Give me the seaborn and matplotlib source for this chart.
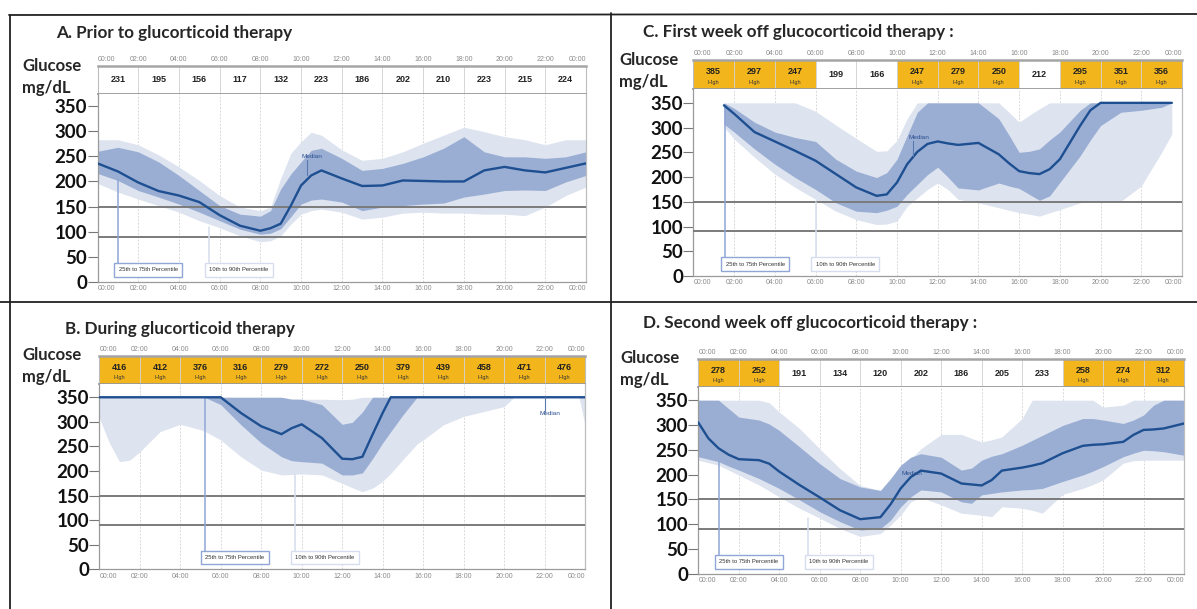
import matplotlib
matplotlib.use("Agg")
import matplotlib.pyplot as plt
import seaborn as sns
from matplotlib.lines import Line2D

sns.set_theme(style="white")
plt.rcParams["font.family"] = ["Liberation Sans", "DejaVu Sans"]

FIG_W, FIG_H = 1197, 609

LIGHT_BAND = "#dde3ef"
DARK_BAND = "#9aaed4"
MEDIAN_BLUE = "#1d4f91"
GOLD = "#f2b51b"
BOLD_FONT = ["Lato", "DejaVu Sans"]

TIME_TICKS = list(range(0, 25, 2))
TIME_LABELS = ["00:00", "02:00", "04:00", "06:00", "08:00", "10:00", "12:00",
               "14:00", "16:00", "18:00", "20:00", "22:00", "00:00"]
CELL_CENTERS = [1, 3, 5, 7, 9, 11, 13, 15, 17, 19, 21, 23]
Y_TICKS = [0, 50, 100, 150, 200, 250, 300, 350]

# ---- A. prior to therapy ----
A_HOURS = [0, 1, 2, 3, 4, 5, 6, 7, 8, 8.5, 9, 9.5, 10, 10.5, 11, 12, 13, 14,
           15, 16, 17, 18, 19, 20, 21, 22, 23, 24]
A_MEDIAN = [236, 220, 198, 181, 172, 159, 133, 112, 102, 107, 116, 152, 192, 212,
            222, 206, 191, 192, 202, 201, 200, 200, 222, 229, 222, 218, 227, 236]
A_P25 = [216, 202, 182, 169, 155, 139, 122, 105, 95, 97, 106, 130, 155, 163,
         165, 159, 142, 149, 152, 155, 157, 169, 175, 182, 183, 182, 199, 212]
A_P75 = [260, 268, 259, 239, 212, 182, 152, 135, 131, 142, 185, 215, 239, 262,
         266, 246, 222, 226, 236, 249, 266, 289, 259, 249, 249, 246, 249, 259]
A_P10 = [196, 179, 165, 152, 139, 122, 108, 92, 80, 82, 92, 115, 135, 142,
         145, 139, 125, 129, 137, 139, 137, 137, 135, 135, 132, 149, 172, 189]
A_P90 = [283, 283, 273, 253, 229, 202, 172, 149, 142, 149, 206, 256, 279, 298,
         292, 263, 242, 246, 259, 276, 292, 308, 299, 289, 283, 273, 283, 283]
A_DAILY = [231, 195, 156, 117, 132, 223, 186, 202, 210, 223, 215, 224]
A_HIGH = [0, 0, 0, 0, 0, 0, 0, 0, 0, 0, 0, 0]

# ---- B. during therapy ----
B_HOURS = [0, 0.5, 1, 1.5, 2, 3, 4, 5, 5.2, 6, 7, 8, 9, 9.5, 10, 11, 12, 12.5,
           13, 13.5, 14, 14.4, 15, 15.7, 16, 17, 18, 19, 20, 20.5, 21, 22, 23,
           23.7, 24]
B_MEDIAN = [350, 350, 350, 350, 350, 350, 350, 350, 350, 350, 318, 291, 275, 287,
            295, 267, 225, 224, 229, 274, 318, 350, 350, 350, 350, 350, 350, 350,
            350, 350, 350, 350, 350, 350, 350]
B_P25 = [350, 350, 350, 350, 350, 350, 350, 350, 350, 335, 294, 257, 229, 221,
         219, 216, 192, 192, 196, 225, 257, 280, 314, 350, 350, 350, 350, 350,
         350, 350, 350, 350, 350, 350, 350]
B_P75 = [350, 350, 350, 350, 350, 350, 350, 350, 350, 350, 350, 350, 350, 346,
         346, 335, 295, 299, 320, 350, 350, 350, 350, 350, 350, 350, 350, 350,
         350, 350, 350, 350, 350, 350, 350]
B_P10 = [308, 257, 219, 222, 239, 280, 295, 284, 281, 263, 229, 202, 192, 193,
         194, 192, 175, 166, 158, 165, 179, 195, 223, 255, 263, 294, 311, 321,
         331, 350, 350, 350, 350, 350, 294]
B_P90 = [350, 350, 350, 350, 350, 350, 350, 350, 350, 350, 350, 350, 350, 347,
         346, 346, 345, 346, 350, 350, 350, 350, 350, 350, 350, 350, 350, 350,
         350, 350, 350, 350, 350, 350, 350]
B_DAILY = [416, 412, 376, 316, 279, 272, 250, 379, 439, 458, 471, 476]
B_HIGH = [1, 1, 1, 1, 1, 1, 1, 1, 1, 1, 1, 1]

# ---- C. first week off therapy ----
C_HOURS = [1.5, 2, 3, 4, 5, 6, 7, 8, 9, 9.5, 10, 10.5, 11, 11.5, 12, 12.5, 13,
           14, 15, 15.5, 16, 16.5, 17, 17.5, 18, 19, 19.5, 20, 21, 22, 23, 23.5]
C_MEDIAN = [345, 328, 291, 272, 253, 233, 206, 179, 162, 165, 189, 226, 251, 267,
            272, 268, 265, 269, 246, 228, 212, 208, 206, 216, 236, 304, 335, 350,
            350, 350, 350, 350]
C_P25 = [307, 291, 257, 226, 199, 175, 148, 131, 128, 133, 141, 165, 185, 205,
         220, 200, 178, 174, 188, 182, 177, 165, 153, 162, 189, 243, 275, 304,
         331, 335, 341, 350]
C_P75 = [350, 339, 311, 291, 280, 272, 236, 212, 199, 209, 236, 284, 331, 350,
         350, 350, 350, 350, 318, 285, 250, 252, 257, 275, 291, 335, 350, 350,
         350, 350, 350, 350]
C_P10 = [301, 277, 240, 206, 179, 155, 131, 114, 104, 105, 111, 141, 158, 175,
         188, 175, 155, 148, 138, 133, 128, 125, 121, 128, 134, 148, 150, 151,
         151, 182, 250, 287]
C_P90 = [350, 350, 350, 350, 350, 333, 305, 278, 252, 253, 274, 318, 350, 350,
         350, 350, 350, 350, 350, 331, 311, 325, 338, 350, 350, 350, 350, 350,
         350, 350, 350, 350]
C_DAILY = [385, 297, 247, 199, 166, 247, 279, 250, 212, 295, 351, 356]
C_HIGH = [1, 1, 1, 0, 0, 1, 1, 1, 0, 1, 1, 1]

# ---- D. second week off therapy ----
D_HOURS = [0, 0.5, 1, 1.5, 2, 3, 3.5, 4, 5, 6, 7, 8, 9, 9.5, 10, 10.5, 11, 12,
           13, 13.5, 14, 14.5, 15, 16, 16.5, 17, 18, 19, 19.5, 20, 21, 21.5, 22,
           22.5, 23, 24]
D_MEDIAN = [305, 273, 253, 240, 231, 229, 222, 206, 179, 154, 128, 110, 114, 140,
            172, 195, 208, 202, 182, 180, 178, 189, 208, 214, 218, 223, 243, 258,
            260, 261, 266, 280, 290, 291, 293, 303]
D_P25 = [236, 231, 226, 217, 209, 192, 182, 172, 149, 125, 105, 88, 91, 108,
         135, 155, 169, 165, 145, 142, 159, 162, 165, 169, 170, 172, 186, 199,
         207, 216, 236, 243, 249, 248, 246, 239]
D_P75 = [350, 350, 350, 333, 316, 310, 302, 289, 256, 222, 192, 175, 168, 192,
         219, 235, 242, 235, 209, 213, 229, 237, 242, 259, 269, 279, 299, 313,
         313, 310, 303, 310, 320, 340, 350, 350]
D_P10 = [229, 224, 219, 209, 199, 179, 167, 155, 132, 112, 91, 75, 81, 98,
         118, 145, 154, 139, 122, 120, 118, 115, 135, 132, 128, 122, 160, 172,
         180, 189, 223, 228, 229, 229, 229, 229]
D_P90 = [350, 350, 350, 350, 350, 350, 345, 326, 293, 252, 212, 178, 168, 175,
         212, 232, 252, 281, 281, 273, 266, 270, 276, 313, 350, 350, 350, 350,
         350, 336, 340, 350, 350, 350, 350, 350]
D_DAILY = [278, 252, 191, 134, 120, 202, 186, 205, 233, 258, 274, 312]
D_HIGH = [1, 1, 0, 0, 0, 0, 0, 0, 0, 1, 1, 1]


def px_rect(x0, y0, x1, y1):
    """Pixel box (top-left origin) -> figure fraction rect."""
    return [x0 / FIG_W, 1 - y1 / FIG_H, (x1 - x0) / FIG_W, (y1 - y0) / FIG_H]


def time_axis(ax, top=False):
    ax.set_xticks(TIME_TICKS)
    ax.set_xticklabels(TIME_LABELS, fontsize=5.0, color="#8a8a8a")
    ax.tick_params(axis="x", length=0, pad=2.5, top=top, labeltop=top,
                   bottom=not top, labelbottom=not top)
    labels = ax.get_xticklabels()
    labels[0].set_ha("left")
    labels[-1].set_ha("right")


def draw_panel(fig, p):
    # daily summary strip
    tab = fig.add_axes(px_rect(p["x0"], p["tab_top"], p["x1"], p["plot_top"]))
    colors = [GOLD if h else "white" for h in p["high"]]
    tab.bar(CELL_CENTERS, 1, width=2, color=colors, edgecolor="#d2d2d2", linewidth=0.6)
    for xc, val, h in zip(CELL_CENTERS, p["daily"], p["high"]):
        tab.text(xc, 0.6 if h else 0.5, str(val), ha="center", va="center",
                 fontsize=6.5, fontweight="bold", color="#222")
        if h:
            tab.text(xc, 0.24, "High", ha="center", va="center", fontsize=4.0, color="#333")
    tab.set_xlim(0, 24)
    tab.set_ylim(0, 1)
    tab.set_yticks([])
    time_axis(tab, top=True)
    for side, lw, col in [("top", 1.8, "#a5a5a5"), ("bottom", 1.3, "#9a9a9a"),
                          ("left", 0.8, "#bdbdbd"), ("right", 0.8, "#bdbdbd")]:
        tab.spines[side].set_linewidth(lw)
        tab.spines[side].set_color(col)

    # percentile bands + median
    ax = fig.add_axes(px_rect(p["x0"], p["plot_top"], p["x1"], p["plot_bottom"]))
    for x in TIME_TICKS[1:-1]:
        ax.axvline(x, color="#d9d9d9", lw=0.7, ls=(0, (2, 1.5)), zorder=0)
    ax.fill_between(p["hours"], p["p10"], p["p90"], color=LIGHT_BAND, lw=0, zorder=1)
    ax.fill_between(p["hours"], p["p25"], p["p75"], color=DARK_BAND, lw=0, zorder=2)
    sns.lineplot(x=p["hours"], y=p["median"], ax=ax, color=MEDIAN_BLUE, lw=1.7,
                 zorder=4, estimator=None, sort=False)
    ax.axhline(150, color="#7b7b7b", lw=1.4, zorder=3)
    ax.axhline(90, color="#7b7b7b", lw=1.4, zorder=3)

    ax.set_xlim(0, 24)
    ax.set_ylim(0, p["ytop"])
    time_axis(ax)
    ax.set_yticks(Y_TICKS)
    ax.set_yticklabels([str(v) for v in Y_TICKS], fontsize=13.5, fontweight="bold",
                       family=BOLD_FONT, color="#111")
    ax.tick_params(axis="y", left=True, length=7, width=0.8, color="#777", pad=0.5)
    ax.spines["top"].set_visible(False)
    for side, col in [("left", "#9a9a9a"), ("bottom", "#9a9a9a"), ("right", "#bdbdbd")]:
        ax.spines[side].set_color(col)
        ax.spines[side].set_linewidth(0.9)

    # percentile legend boxes with pointer lines
    b1, b2 = p["legend"]
    for (cx, lx, ly), txt, ec in [(b1, "25th to 75th Percentile", "#8fa6d6"),
                                  (b2, "10th to 90th Percentile", "#d6ddee")]:
        ax.plot([lx, lx], [36, ly], color=ec, lw=1.1, zorder=3)
        ax.text(cx, 24, txt, ha="center", va="center", fontsize=4.2, color="#333",
                zorder=5, bbox=dict(boxstyle="square,pad=0.75", fc="white", ec=ec, lw=1.0))

    # median label
    mx, my, lx, ly0, ly1 = p["median_label"]
    if lx is not None:
        ax.plot([lx, lx], [ly0, ly1], color="#5a78b0", lw=0.8, zorder=5)
    ax.text(mx, my, "Median", ha="center", va="center", fontsize=4.6,
            color="#2b4f8f", zorder=6)

    # headings
    fig.text(p["title_xy"][0] / FIG_W, 1 - p["title_xy"][1] / FIG_H, p["title"],
             fontsize=12.3, fontweight="bold", family=BOLD_FONT, va="center", ha="left")
    gx, gy = p["glucose_xy"]
    fig.text(gx / FIG_W, 1 - gy / FIG_H, "Glucose", fontsize=12, fontweight="bold",
             family=BOLD_FONT, va="center", ha="left")
    fig.text(gx / FIG_W, 1 - (gy + 22) / FIG_H, "mg/dL", fontsize=12, fontweight="bold",
             family=BOLD_FONT, va="center", ha="left")


panels = [
    dict(title="A. Prior to glucorticoid therapy", title_xy=(56, 33), glucose_xy=(22, 66),
         x0=97.5, x1=586, tab_top=66, plot_top=94, plot_bottom=282, ytop=374,
         hours=A_HOURS, median=A_MEDIAN, p10=A_P10, p25=A_P25, p75=A_P75, p90=A_P90,
         daily=A_DAILY, high=A_HIGH,
         legend=[(2.5, 1.0, 202), (6.95, 5.5, 110)],
         median_label=(10.55, 250, 10.3, 242, 213)),
    dict(title="C. First week off glucocorticoid therapy :", title_xy=(643, 32),
         glucose_xy=(619, 60),
         x0=693.4, x1=1182, tab_top=60, plot_top=89, plot_bottom=276, ytop=378,
         hours=C_HOURS, median=C_MEDIAN, p10=C_P10, p25=C_P25, p75=C_P75, p90=C_P90,
         daily=C_DAILY, high=C_HIGH,
         legend=[(3.03, 1.53, 345), (7.46, 6.0, 150)],
         median_label=(11.1, 280, 10.8, 272, 243)),
    dict(title="B. During glucorticoid therapy", title_xy=(65, 329), glucose_xy=(22, 355),
         x0=99.3, x1=585, tab_top=356, plot_top=384, plot_bottom=569.3, ytop=377,
         hours=B_HOURS, median=B_MEDIAN, p10=B_P10, p25=B_P25, p75=B_P75, p90=B_P90,
         daily=B_DAILY, high=B_HIGH,
         legend=[(6.7, 5.22, 350), (11.14, 9.67, 193)],
         median_label=(22.25, 316, 22.0, 350, 323)),
    dict(title="D. Second week off glucocorticoid therapy :", title_xy=(643, 323),
         glucose_xy=(620, 358),
         x0=698.3, x1=1184, tab_top=359, plot_top=387.3, plot_bottom=573.7, ytop=376,
         hours=D_HOURS, median=D_MEDIAN, p10=D_P10, p25=D_P25, p75=D_P75, p90=D_P90,
         daily=D_DAILY, high=D_HIGH,
         legend=[(2.5, 1.02, 228), (6.95, 5.44, 112)],
         median_label=(10.55, 202, None, None, None)),
]

fig = plt.figure(figsize=(FIG_W / 100, FIG_H / 100), dpi=100)
for panel in panels:
    draw_panel(fig, panel)

# frame lines separating the four screenshots
for (x0, y0), (x1, y1) in [((9, 15), (1197, 14)), ((9.5, 15), (9.5, 609)),
                           ((611, 13), (611, 609)), ((0, 302), (1197, 302))]:
    fig.add_artist(Line2D([x0 / FIG_W, x1 / FIG_W], [1 - y0 / FIG_H, 1 - y1 / FIG_H],
                          color="#222", lw=1.3, transform=fig.transFigure))

fig.savefig("out.png", dpi=100)
plt.close(fig)
